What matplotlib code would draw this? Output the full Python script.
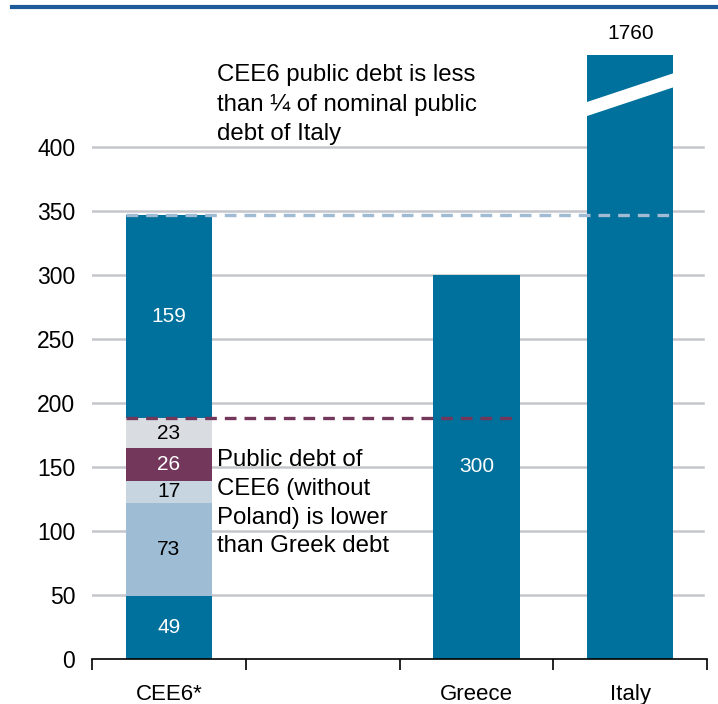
import numpy as np
import matplotlib
matplotlib.use('Agg')
from matplotlib import pyplot as plt
from matplotlib.lines import Line2D

plt.rcParams['font.family'] = ['Liberation Sans', 'DejaVu Sans']

# Data
categories = ['CEE6*', '', 'Greece', 'Italy']
cee6_parts = [49, 73, 17, 26, 23, 159]
cee6_colors = ['#00709c', '#9ebcd4', '#c6d5e0', '#72375a', '#d9dde2', '#00709c']
cee6_text = ['white', 'black', 'black', 'white', 'black', 'white']
greece = 300
italy = 1760
cee6_no_poland = sum(cee6_parts[:5])
cee6_total = sum(cee6_parts)

BLUE = '#00709c'
ITALY_CAP = 472   # axis is broken for Italy
YMAX = 480

fig = plt.figure(figsize=(7.18, 7.04), dpi=100)
ax = fig.add_axes([0.128, 0.064, 0.857, 0.8725])

width = 0.56
x = np.arange(len(categories))

# CEE6 stacked bar
bottom = 0
for val, col, tc in zip(cee6_parts, cee6_colors, cee6_text):
    ax.bar(x[0], val, width, bottom=bottom, color=col, zorder=2)
    ax.text(x[0], bottom + val/2, str(val), ha='center', va='center',
            color=tc, fontsize=15, zorder=4)
    bottom += val

# Greece
ax.bar(x[2], greece, width, color=BLUE, zorder=2)
ax.text(x[2], greece/2, str(greece), ha='center', va='center', color='white',
        fontsize=15, zorder=4)

# Italy (broken bar)
shown = min(italy, ITALY_CAP)
ax.bar(x[3], shown, width, color=BLUE, zorder=2)
ax.text(x[3], shown + 9, str(italy), ha='center', va='bottom', color='black',
        fontsize=15, zorder=4, clip_on=False)
x0, x1 = x[3] - width/2 - 0.02, x[3] + width/2 + 0.02
ax.fill([x0, x1, x1, x0], [423.5, 447.5, 458.5, 434.5], color='white', zorder=3,
        lw=0)

# Dashed comparison lines
ax.plot([x[0] - width/2, x[3] + width/2], [cee6_total, cee6_total],
        ls=(0, (3.5, 2.4)), color='#a0bcd4', lw=2.4, zorder=3)
ax.plot([x[0] - width/2, x[2] + width/2 - 0.03], [cee6_no_poland, cee6_no_poland],
        ls=(0, (3.5, 2.4)), color='#72375a', lw=2.4, zorder=3)

# Annotations
ax.text(0.31, 465, 'CEE6 public debt is less\nthan \u00bc of nominal public\ndebt of Italy',
        ha='left', va='top', fontsize=17.3, linespacing=1.45, zorder=5)
ax.text(0.31, 164, 'Public debt of\nCEE6 (without\nPoland) is lower\nthan Greek debt',
        ha='left', va='top', fontsize=17.3, linespacing=1.4, zorder=5)

# Axes styling
ax.set_xlim(-0.5, 3.5)
ax.set_ylim(0, YMAX)
ax.set_yticks(np.arange(0, 401, 50))
ax.tick_params(axis='y', length=0, pad=12, labelsize=16.5)
for s in ('left', 'right', 'top'):
    ax.spines[s].set_visible(False)
ax.spines['bottom'].set_color('black')
ax.spines['bottom'].set_linewidth(1.2)
ax.set_xticks(np.arange(-0.5, 3.6, 1))
ax.set_xticklabels([])
ax.set_xticks(x, minor=True)
ax.set_xticklabels(categories, minor=True)
ax.tick_params(axis='x', which='minor', length=0, pad=18, labelsize=16)
ax.tick_params(axis='x', which='major', direction='out', length=8, width=1.2,
               color='black')
for yv in np.arange(50, 401, 50):
    ax.axhline(yv, xmin=0, xmax=0.993, color='#c4c6cb', lw=1.8, zorder=1)

# Top rule
fig.add_artist(Line2D([12/718, 1.0], [1 - 7/704, 1 - 7/704], color='#1d5a9a', lw=3))

fig.savefig('out.png', dpi=100)
